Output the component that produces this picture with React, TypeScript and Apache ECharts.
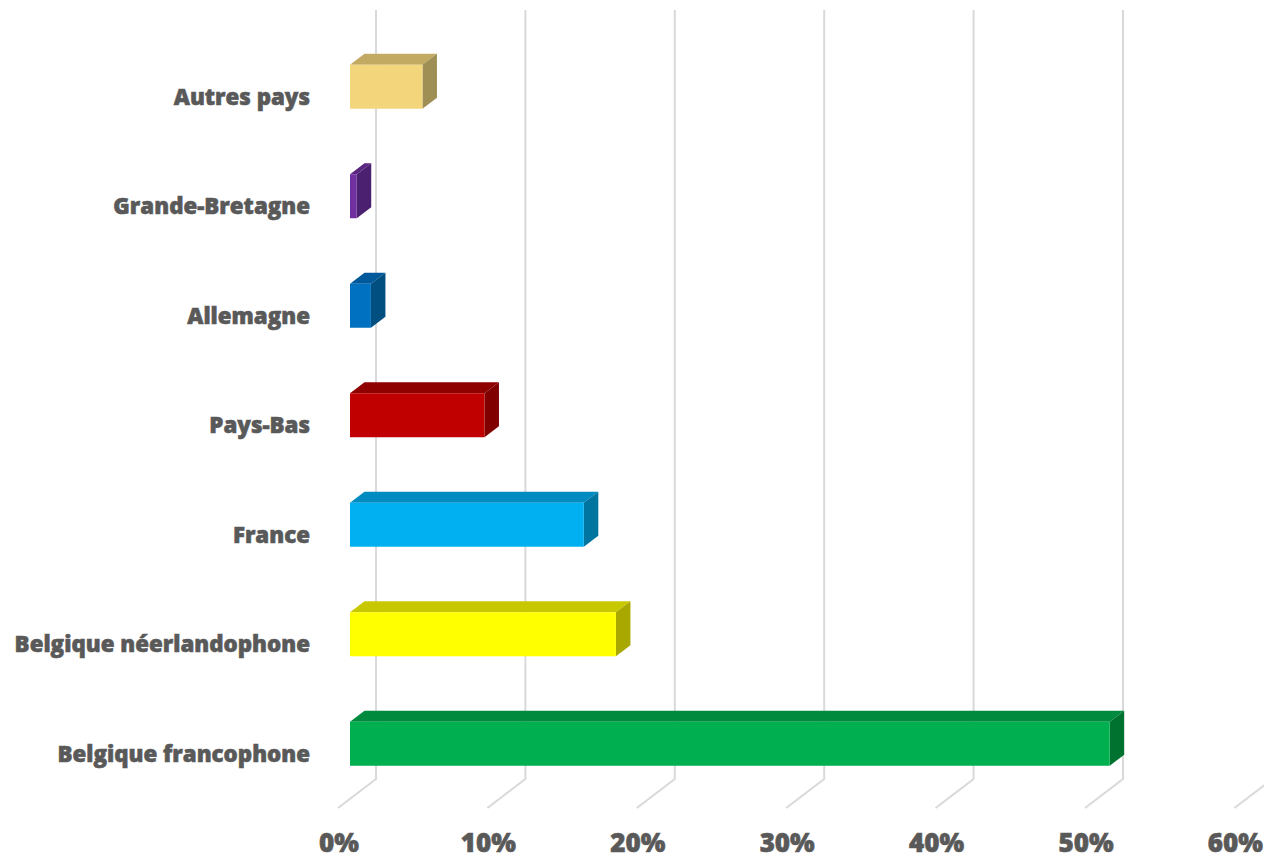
import React, { useEffect, useRef } from "react";
import * as echarts from "echarts";

const categories = [
  "Belgique francophone",
  "Belgique néerlandophone",
  "France",
  "Pays-Bas",
  "Allemagne",
  "Grande-Bretagne",
  "Autres pays",
];
const values = [50.85, 17.8, 15.65, 9.0, 1.4, 0.45, 4.85];
const frontColors = ["#00B050", "#FFFF00", "#00B0F0", "#C00000", "#0070C0", "#7030A0", "#F3D57C"];
const topColors = ["#008A3E", "#C8C800", "#008CC0", "#8F0000", "#00599A", "#5A2680", "#C2AA63"];
const sideColors = ["#00722F", "#A8A800", "#0075A0", "#800000", "#004F80", "#4B2070", "#A08F54"];
const xTicks = [0, 10, 20, 30, 40, 50, 60];

const FONT = '"Open Sans", "Noto Sans", sans-serif';
const DEPTH_X = 14.5;
const DEPTH_Y = 11;
const BAR_H = 44;

export default function App() {
  const ref = useRef<HTMLDivElement>(null);
  useEffect(() => {
    const chart = echarts.init(ref.current!, undefined, { renderer: "svg" });
    chart.setOption({
      animation: false,
      backgroundColor: "#ffffff",
      grid: { left: 350, top: 32, width: 896.4, height: 766.5, outerBoundsMode: "none" },
      xAxis: {
        type: "value",
        min: 0,
        max: 60,
        interval: 10,
        splitLine: { show: false },
        axisLine: { show: false },
        axisTick: { show: false },
        axisLabel: {
          formatter: "{value}%",
          color: "#595959",
          fontFamily: FONT,
          fontWeight: 800,
          fontSize: 26,
          lineHeight: 22,
          margin: 32,
          padding: [0, 22, 0, 0],
          textBorderColor: "#595959",
          textBorderWidth: 0.6,
        },
      },
      yAxis: {
        type: "category",
        data: categories,
        axisLine: { show: false },
        axisTick: { show: false },
        axisLabel: {
          color: "#595959",
          fontFamily: FONT,
          fontWeight: 800,
          fontSize: 22.3,
          margin: 40,
          verticalAlign: "top",
          lineHeight: 19,
          textBorderColor: "#595959",
          textBorderWidth: 0.6,
        },
      },
      series: [
        {
          type: "custom",
          silent: true,
          z: 1,
          clip: false,
          encode: { x: 0, y: 1 },
          data: xTicks.map((t) => [t, 0]),
          renderItem: (params: any, api: any) => {
            const cs = params.coordSys;
            const x = api.coord([api.value(0), 0])[0];
            const bottom = cs.y + cs.height;
            const lineStyle = { stroke: "#D9D9D9", lineWidth: 2, fill: "none" };
            return {
              type: "polyline",
              shape: {
                points: [
                  [x + 26, 10],
                  [x + 26, bottom - 19.5],
                  [x - 12, bottom + 9.5],
                ],
              },
              style: lineStyle,
            };
          },
        },
        {
          type: "custom",
          silent: true,
          z: 2,
          clip: false,
          encode: { x: 0, y: 1 },
          data: values.map((v, i) => [v, i]),
          renderItem: (params: any, api: any) => {
            const i = api.value(1);
            const [x0, yc] = api.coord([0, i]);
            const [x1] = api.coord([api.value(0), i]);
            const t = yc - BAR_H / 2;
            const b = yc + BAR_H / 2;
            const poly = (points: number[][], fill: string) => ({
              type: "polygon",
              shape: { points },
              style: { fill },
            });
            return {
              type: "group",
              children: [
                poly(
                  [
                    [x0, t],
                    [x0 + DEPTH_X, t - DEPTH_Y],
                    [x1 + DEPTH_X, t - DEPTH_Y],
                    [x1, t],
                  ],
                  topColors[i]
                ),
                poly(
                  [
                    [x1, t],
                    [x1 + DEPTH_X, t - DEPTH_Y],
                    [x1 + DEPTH_X, b - DEPTH_Y],
                    [x1, b],
                  ],
                  sideColors[i]
                ),
                poly(
                  [
                    [x0, t],
                    [x1, t],
                    [x1, b],
                    [x0, b],
                  ],
                  frontColors[i]
                ),
              ],
            };
          },
        },
      ],
    });
    return () => chart.dispose();
  }, []);
  return (
    <div
      ref={ref}
      style={{ position: "absolute", left: 0, top: 0, width: 1264, height: 854 }}
    />
  );
}
